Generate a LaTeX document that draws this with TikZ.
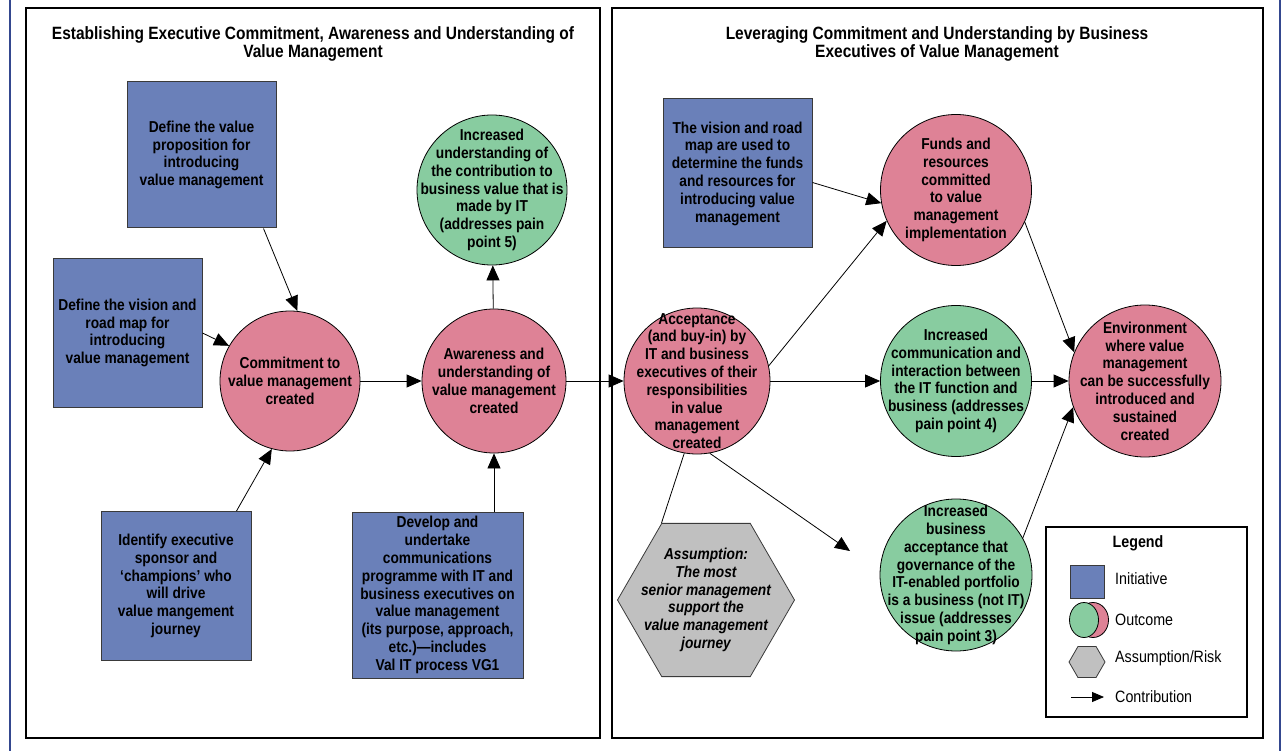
\documentclass[tikz,border=0pt]{standalone}
\usepackage{fontspec}
\setmainfont[FakeStretch=0.87]{Liberation Sans}
\usetikzlibrary{arrows.meta,shapes.geometric,calc}
\definecolor{ibox}{HTML}{6A80B9}
\definecolor{ibord}{HTML}{3A3A3A}
\definecolor{opink}{HTML}{DE8296}
\definecolor{ogreen}{HTML}{88CCA0}
\definecolor{agrey}{HTML}{C0C0C0}
\definecolor{navy}{HTML}{34488F}
\begin{document}
\begin{tikzpicture}[x=1pt,y=-1pt,
  every node/.style={inner sep=0pt},
  body/.style={font=\fontsize{15.8}{17.8}\selectfont\bfseries, align=center},
  ttl/.style={font=\fontsize{17.8}{18}\selectfont\bfseries, align=center},
  leg/.style={font=\fontsize{16.4}{17.5}\selectfont, anchor=west},
  ini/.style={body, rectangle, draw=ibord, fill=ibox, line width=1pt},
  pinkc/.style={circle, draw=black, fill=opink, line width=0.8pt},
  greenc/.style={circle, draw=black, fill=ogreen, line width=0.8pt},
  ctext/.style={label={[body]center:#1}},
  hexa/.style={regular polygon, regular polygon sides=6, draw=ibord, fill=agrey, line width=0.8pt},
  arr/.style={-{Triangle[length=15pt,width=13pt]}, line width=0.8pt},
  larr/.style={-{Triangle[length=12pt,width=10pt]}, line width=0.8pt},
  panel/.style={draw=black, line width=1.8pt}
]
\useasboundingbox (0,0) rectangle (1284,751);
\fill[white] (0,0) rectangle (1284,751);
% outer frame lines
\draw[navy, line width=1.5pt] (10,0) -- (10,751);
\draw[navy, line width=1.5pt] (1280,0) -- (1280,751);
% panels
\draw[panel] (26,8) rectangle (600,738);
\draw[panel] (612,8) rectangle (1263,738);
\node[ttl] (T1) at (313,44) {Establishing Executive Commitment, Awareness and Understanding of\\Value Management};
\node[ttl] (T2) at (937,44) {Leveraging Commitment and Understanding by Business\\Executives of Value Management};

% initiatives
\node[ini, minimum width=149pt, minimum height=146pt] (B1) at (201.5,155) {Define the value\\proposition for\\introducing\\value management};
\node[ini, minimum width=149pt, minimum height=148pt] (B2) at (127.5,333) {Define the vision and\\road map for\\introducing\\value management};
\node[ini, minimum width=150pt, minimum height=149pt] (B3) at (176,586) {Identify executive\\sponsor and\\‘champions’ who\\will drive\\value mangement\\journey};
\node[ini, minimum width=171pt, minimum height=166pt] (B4) at (437.5,595) {Develop and\\undertake\\communications\\programme with IT and\\business executives on\\value management\\(its purpose, approach,\\etc.)—includes\\Val IT process VG1};
\node[ini, minimum width=149pt, minimum height=149pt] (B5) at (737.5,173.5) {The vision and road\\map are used to\\determine the funds\\and resources for\\introducing value\\management};

% outcomes
\node[pinkc, minimum size=140pt, ctext={Commitment to\\value management\\created}] (C1) at (290,381) {};
\node[pinkc, minimum size=144pt, ctext={Awareness and\\understanding of\\value management\\created}] (C2) at (494,381) {};
\node[greenc, minimum size=150pt, ctext={Increased\\understanding of\\the contribution to\\business value that is\\made by IT\\(addresses pain\\point 5)}] (C3) at (492,190) {};
\node[pinkc, minimum size=146pt, ctext={Acceptance\\(and buy-in) by\\IT and business\\executives of their\\responsibilities\\in value\\management\\created}] (C4) at (697,381) {};
\node[pinkc, minimum size=151pt, ctext={Funds and\\resources\\committed\\to value\\management\\implementation}] (C5) at (956,190) {};
\node[greenc, minimum size=151pt, ctext={Increased\\communication and\\interaction between\\the IT function and\\business (addresses\\pain point 4)}] (C6) at (956,381) {};
\node[greenc, minimum size=152pt, ctext={Increased\\business\\acceptance that\\governance of the\\IT-enabled portfolio\\is a business (not IT)\\issue (addresses\\pain point 3)}] (C7) at (956,575) {};
\node[pinkc, minimum size=152pt, ctext={Environment\\where value\\management\\can be successfully\\introduced and\\sustained\\created}] (C8) at (1145,381) {};

% assumption
\node[hexa, minimum size=177pt,
  label={[font=\fontsize{15.8}{17.8}\selectfont\bfseries\itshape, align=center]center:Assumption:\\The most\\senior management\\support the\\value management\\journey}] (H) at (706,600) {};

% connectors
\coordinate (c7in) at (850,551);
\draw[arr] ([xshift=-13pt]B1.south east) -- (C1.84);
\draw[arr] (B2.east) -- (C1.150);
\draw[arr] ([xshift=-15pt]B3.north east) -- (C1.255);
\draw[arr] (C1) -- (C2);
\draw[arr] (C2) -- (C3);
\draw[arr] (C2.south |- B4.north) -- (C2.south);
\draw[arr] (C2) -- (C4);
\draw[arr] (C4.12) -- (C5.204);
\draw[arr] ([yshift=-9pt]B5.east) -- (C5.190);
\draw[arr] (C4) -- (C6);
\draw[arr] (C4.-80) -- (c7in);
\draw[line width=0.8pt] (C4.-100) -- (H.120);
\draw[arr] (C5.-25) -- (C8.158);
\draw[arr] (C6) -- (C8);
\draw[arr] (C7.29) -- (C8.200);

% legend
\draw[line width=1.2pt] (1046,527) rectangle (1247,717);
\node[font=\fontsize{16.4}{17.5}\selectfont\bfseries] (LT) at (1138,543) {Legend};
\node[rectangle, draw=ibord, fill=ibox, line width=1pt, minimum width=34pt, minimum height=33pt] (L1) at (1087,581.5) {};
\node[leg] (L1t) at (1115,579) {Initiative};
\node[ellipse, draw=black, fill=opink, line width=0.8pt, minimum width=31pt, minimum height=35pt] (L2b) at (1093,620) {};
\node[ellipse, draw=black, fill=ogreen, line width=0.8pt, minimum width=29pt, minimum height=35pt] (L2a) at (1084,620) {};
\node[leg] (L2t) at (1115,620) {Outcome};
\node[hexa, minimum size=36pt] (L3) at (1087,662) {};
\node[leg] (L3t) at (1115,658) {Assumption/Risk};
\coordinate (la1) at (1071,697);
\coordinate (la2) at (1104,697);
\draw[larr] (la1) -- (la2);
\node[leg] (L4t) at (1115,697) {Contribution};
\end{tikzpicture}
\end{document}
